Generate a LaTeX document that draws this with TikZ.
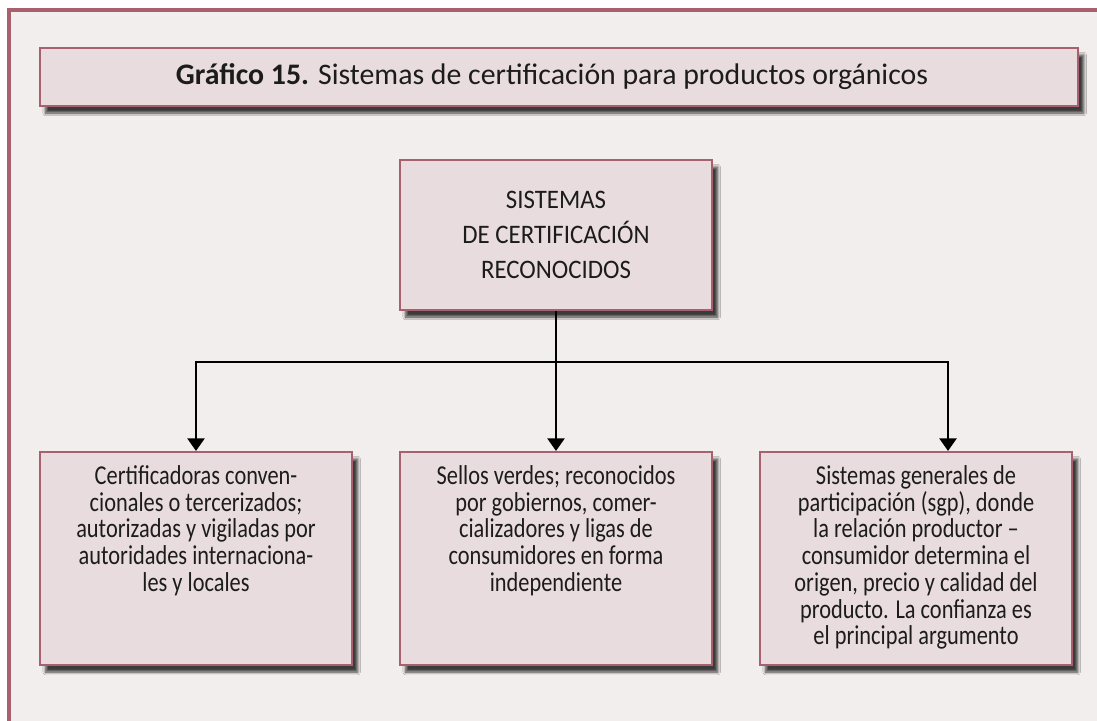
\documentclass[tikz,border=0pt]{standalone}
\usepackage{fontspec}
\setmainfont{Carlito}
\newfontfamily\narrowfont{Carlito}[FakeStretch=0.82]
\newfontfamily\capsfont{Carlito}[FakeStretch=0.93]
\usetikzlibrary{arrows.meta, shadows.blur, positioning}

\definecolor{frame}{HTML}{A8606F}
\definecolor{paper}{HTML}{F3EEEE}
\definecolor{boxfill}{HTML}{E8DCDF}
\definecolor{ink}{HTML}{1C1C1C}

\newcommand{\boxtext}[1]{\parbox[c][5.0cm][t]{7.6cm}{\vspace*{5pt}\centering\narrowfont\fontsize{19.4}{19}\selectfont #1}}

\begin{document}
\begin{tikzpicture}[x=0.025cm, y=-0.025cm,
    panel/.style={draw=frame, line width=1.4pt, fill=boxfill, text=ink,
        blur shadow={shadow xshift=4pt, shadow yshift=-5pt, shadow blur steps=8, shadow opacity=75}},
    link/.style={line width=2.1pt, black},
    arr/.style={link, -{Triangle[width=12pt, length=9pt]}}]
        \useasboundingbox (0,0) rectangle (1097,721);
        % Background
        \fill[paper] (7,8) rectangle (1097,721);
        \draw[frame, line width=3.5pt] (9,721) -- (9,10) -- (1097,10);

        % Nodes
        \node[panel, minimum width=25.95cm, minimum height=1.45cm] (title) at (559,77)
            {\fontsize{21.2}{24}\selectfont\textbf{Gráfico 15.} Sistemas de certificación para productos orgánicos\hspace*{10pt}};
        \node[panel, minimum width=7.8cm, minimum height=3.75cm, align=center,
            font=\capsfont\fontsize{19}{24.9}\selectfont] (sys) at (556,235)
            {SISTEMAS\\DE CERTIFICACIÓN\\RECONOCIDOS};
        \node[panel, inner sep=0pt, minimum width=7.8cm, minimum height=5.325cm] (conv) at (196,558.5)
            {\boxtext{Certificadoras conven-\\cionales o tercerizados;\\autorizadas y vigiladas por\\autoridades internaciona-\\les y locales}};
        \node[panel, inner sep=0pt, minimum width=7.8cm, minimum height=5.325cm] (green) at (556,558.5)
            {\boxtext{Sellos verdes; reconocidos\\por gobiernos, comer-\\cializadores y ligas de\\consumidores en forma\\independiente}};
        \node[panel, inner sep=0pt, minimum width=7.8cm, minimum height=5.325cm] (sgp) at (916,558.5)
            {\boxtext{Sistemas generales de\\participación (sgp), donde\\la relación productor –\\consumidor determina el\\origen, precio y calidad del\\producto. La confianza es\\el principal argumento}};
        \coordinate (split) at (556,362);

        % Edges
        \draw[link] (sys.south) -- (split);
        \draw[arr] (split) -- (green.north);
        \draw[arr] (split) -| (conv.north);
        \draw[arr] (split) -| ([xshift=0.8cm]sgp.north);
    \end{tikzpicture}
\end{document}
